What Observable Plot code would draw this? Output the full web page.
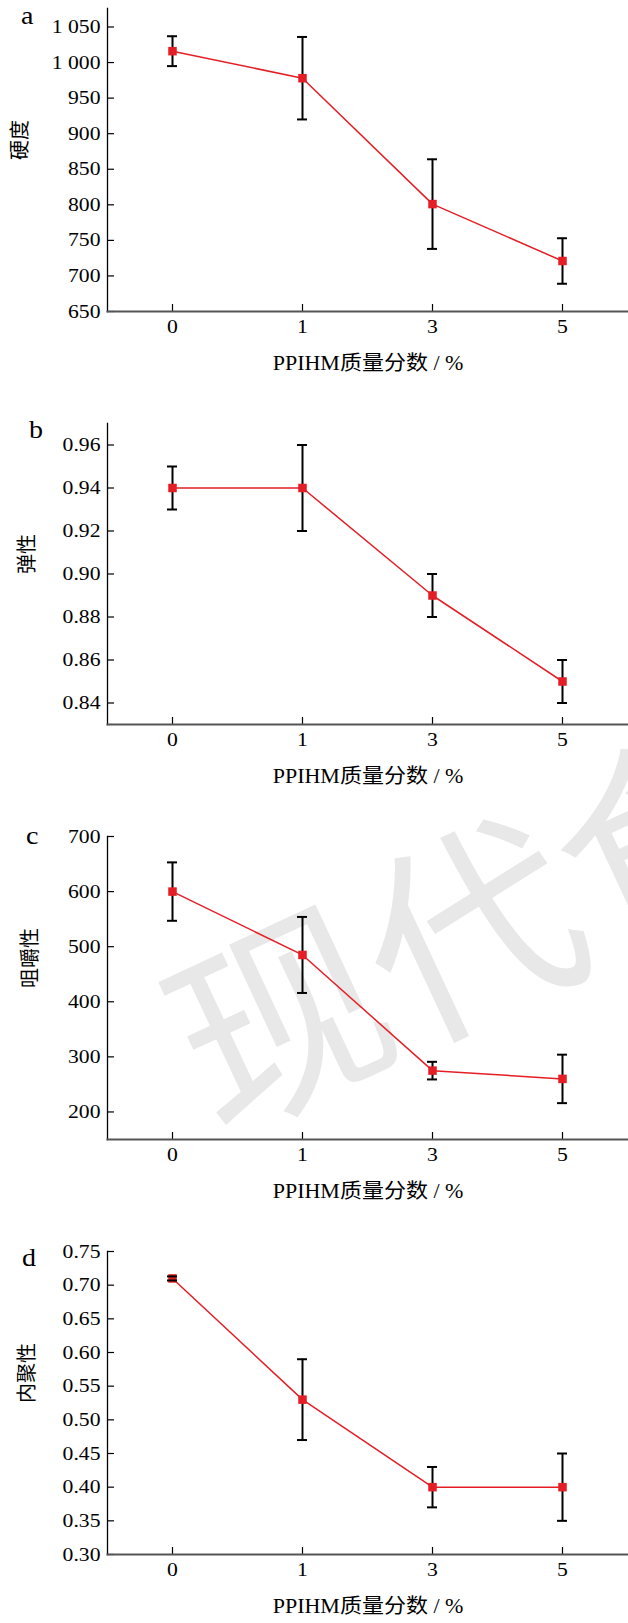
<!DOCTYPE html>
<html>
<head>
<meta charset="utf-8">
<script src="https://cdn.jsdelivr.net/npm/d3@7"></script>
<script src="https://cdn.jsdelivr.net/npm/@observablehq/plot@0.6"></script>
<style>
  html, body { margin: 0; padding: 0; background: white; }
  #page { position: relative; width: 628px; height: 1623px; overflow: hidden; background: white; }
  .panel { position: absolute; left: 0; z-index: 2; }
  .letter { position: absolute; z-index: 3; font-family: "Liberation Serif", "Times New Roman", serif; font-size: 25px; line-height: 1; color: #000; transform-origin: 0 0; transform: scaleX(1.12); }
  #wm { position: absolute; z-index: 1; left: 178px; top: 946px; font-family: "Noto Sans CJK SC", sans-serif; font-weight: 400;
        font-size: 212px; line-height: 1; color: #e8e8e8; white-space: nowrap; transform-origin: 0 50%; transform: rotate(-25deg); }
</style>
</head>
<body>
<div id="page"><div id="wm">现代食品</div></div>
<script>
// ---- data ----
const dosage = ["0", "1", "3", "5"];
const xLabel = "PPIHM质量分数 / %";

const hardness = [1016, 978, 801, 721];
const hardnessErr = [21, 58, 63, 32];
const hardnessTicks = [650, 700, 750, 800, 850, 900, 950, 1000, 1050];

const springiness = [0.94, 0.94, 0.89, 0.85];
const springinessErr = [0.01, 0.02, 0.01, 0.01];
const springinessTicks = [0.84, 0.86, 0.88, 0.90, 0.92, 0.94, 0.96];

const chewiness = [600, 485, 275, 260];
const chewinessErr = [53, 69, 16, 44];
const chewinessTicks = [200, 300, 400, 500, 600, 700];

const cohesiveness = [0.71, 0.53, 0.40, 0.40];
const cohesivenessErr = [0.003, 0.06, 0.03, 0.05];
const cohesivenessTicks = [0.30, 0.35, 0.40, 0.45, 0.50, 0.55, 0.60, 0.65, 0.70, 0.75];

const panelLetters = ["a", "b", "c", "d"];
const yLabels = ["硬度", "弹性", "咀嚼性", "内聚性"];

// ---- layout ----
const FONT = '"Liberation Serif", "Times New Roman", "Noto Sans CJK SC", serif';
const W = 628, ML = 107, MT = 8, MB = 72;
const RED = "#e51e25";
// band scale whose narrow band (≈10px) gives the error-bar cap width; centres sit at half-step padding
const PI = 0.923, PO = PI / 2;
const TICK_STRETCH = 1.14, LABEL_STRETCH = 1.1;

const panels = [
  {values: hardness, err: hardnessErr, ticks: hardnessTicks, domain: [650, 1076], fmt: d => d3.format(",")(d).replace(/,/g, " "), top: 0, plotH: 303, labelX: 20, letterX: 21, letterBase: 25},
  {values: springiness, err: springinessErr, ticks: springinessTicks, domain: [0.83, 0.97], fmt: d3.format(".2f"), top: 415, plotH: 301, labelX: 27, letterX: 29, letterBase: 439},
  {values: chewiness, err: chewinessErr, ticks: chewinessTicks, domain: [150, 700], fmt: d3.format("d"), top: 828, plotH: 303, labelX: 30, letterX: 26, letterBase: 845},
  {values: cohesiveness, err: cohesivenessErr, ticks: cohesivenessTicks, domain: [0.30, 0.75], fmt: d3.format(".2f"), top: 1243, plotH: 303, labelX: 27, letterX: 22, letterBase: 1267}
];

const page = document.getElementById("page");

function stretch(t, k) {
  const L = t.getComputedTextLength();
  if (L > 0) {
    t.setAttribute("textLength", (L * k).toFixed(2));
    t.setAttribute("lengthAdjust", "spacingAndGlyphs");
  }
}

panels.forEach((p, i) => {
  const data = dosage.map((x, j) => ({x, v: p.values[j], e: p.err[j]}));
  const H = MT + p.plotH + MB;
  const chart = Plot.plot({
    width: W,
    height: H,
    marginLeft: ML,
    marginRight: 0,
    marginTop: MT,
    marginBottom: MB,
    style: {fontFamily: FONT, fontSize: "19px", background: "transparent", color: "black", overflow: "visible"},
    x: {type: "band", domain: dosage, paddingInner: PI, paddingOuter: PO, label: null},
    y: {domain: p.domain, label: null},
    marks: [
      Plot.frame({anchor: "left", stroke: "black", strokeWidth: 1.3}),
      Plot.axisY(p.ticks, {tickSize: -7, tickPadding: 14, tickFormat: p.fmt, fontSize: 19, stroke: "black", strokeWidth: 1.2}),
      Plot.axisX(dosage, {tickSize: -7, tickPadding: 15, fontSize: 19, stroke: "black", strokeWidth: 1.2}),
      Plot.frame({anchor: "bottom", stroke: "#555", strokeWidth: 2}),
      Plot.ruleX(data, {x: "x", y1: d => d.v - d.e, y2: d => d.v + d.e, stroke: "black", strokeWidth: 2}),
      Plot.line(data, {x: "x", y: "v", stroke: RED, strokeWidth: 1.5}),
      Plot.dot(data, {x: "x", y: "v", symbol: "square", r: 4.8, fill: RED, stroke: null}),
      Plot.tickY(data, {x: "x", y: d => d.v + d.e, stroke: "black", strokeWidth: 2}),
      Plot.tickY(data, {x: "x", y: d => d.v - d.e, stroke: "black", strokeWidth: 2}),
      Plot.text([yLabels[i]], {frameAnchor: "left", dx: p.labelX - ML, rotate: -90, fontSize: 20, fill: "black"}),
      Plot.text([xLabel], {frameAnchor: "bottom", dy: 58, fontSize: 20, fill: "black"})
    ]
  });
  const div = document.createElement("div");
  div.className = "panel";
  div.style.top = p.top + "px";
  div.appendChild(chart);
  page.appendChild(div);

  chart.querySelectorAll('g[aria-label="y-axis tick label"] text, g[aria-label="x-axis tick label"] text')
    .forEach(t => stretch(t, TICK_STRETCH));
  chart.querySelectorAll("text").forEach(t => { if (t.textContent === xLabel) stretch(t, LABEL_STRETCH); });

  const letter = document.createElement("div");
  letter.className = "letter";
  letter.textContent = panelLetters[i];
  letter.style.left = p.letterX + "px";
  letter.style.top = (p.letterBase - 22.3) + "px";
  page.appendChild(letter);
});
</script>
</body>
</html>
